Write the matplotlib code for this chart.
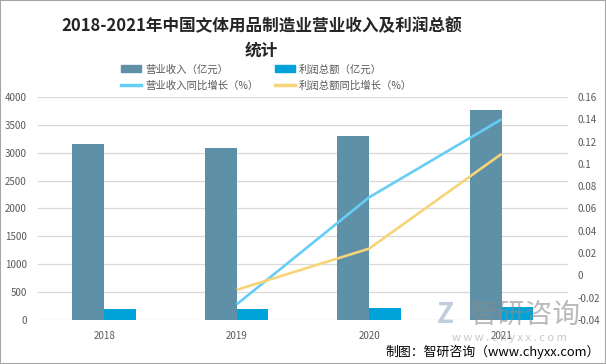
import matplotlib.pyplot as plt
from matplotlib.patches import Patch, Rectangle
from matplotlib.lines import Line2D
import numpy as np

plt.rcParams['font.family'] = ['Noto Sans CJK SC', 'DejaVu Sans']

years = ['2018', '2019', '2020', '2021']
revenue = [3160, 3088, 3303, 3770]          # 营业收入（亿元）
profit = [197, 197, 215, 239]               # 利润总额（亿元）
growth_years = ['2019', '2020', '2021']
revenue_growth = [-0.026, 0.070, 0.140]     # 营业收入同比增长
profit_growth = [-0.013, 0.024, 0.109]      # 利润总额同比增长

c_rev = '#5e90a8'
c_pro = '#00a3d9'
c_rev_line = '#66cdf5'
c_pro_line = '#f7d477'
grey = '#595959'

fig = plt.figure(figsize=(6.06, 3.64), dpi=100)
ax = fig.add_axes([0.0627, 0.121, 0.8743, 0.6125])
ax2 = ax.twinx()

x = np.arange(len(years))
w = 0.24
ax.bar(x - w / 2, revenue, w, color=c_rev, zorder=2)
ax.bar(x + w / 2, profit, w, color=c_pro, zorder=2)

gx = [years.index(y) for y in growth_years]
ax2.plot(gx, revenue_growth, color=c_rev_line, lw=1.9, solid_capstyle='butt')
ax2.plot(gx, profit_growth, color=c_pro_line, lw=1.9, solid_capstyle='butt')

ax.set_xlim(-0.5, 3.5)
ax.set_ylim(0, 4000)
ax.set_yticks(range(0, 4001, 500))
ax.set_xticks(x)
ax.set_xticklabels(years)
ax2.set_ylim(-0.04, 0.16)
ax2.set_yticks(np.arange(-0.04, 0.161, 0.02))
ax2.set_yticklabels(['-0.04', '-0.02', '0', '0.02', '0.04', '0.06', '0.08',
                     '0.1', '0.12', '0.14', '0.16'])

ax.grid(axis='y', color='#d9d9d9', lw=0.9, zorder=0)
ax.set_axisbelow(True)
for a in (ax, ax2):
    for s in a.spines.values():
        s.set_visible(False)
ax.tick_params(axis='y', length=0, pad=8, labelsize=7, labelcolor=grey)
ax.tick_params(axis='x', length=0, pad=8, labelsize=7, labelcolor=grey)
ax2.tick_params(axis='y', length=0, pad=7, labelsize=7, labelcolor=grey)

fig.text(0.432, 0.928, '2018-2021年中国文体用品制造业营业收入及利润总额',
         ha='center', va='center', fontsize=12, fontweight='bold', color='#262626')
fig.text(0.432, 0.86, '统计', ha='center', va='center', fontsize=12,
         fontweight='bold', color='#262626')

handles = [Patch(color=c_rev), Line2D([], [], color=c_rev_line, lw=2.5),
           Patch(color=c_pro), Line2D([], [], color=c_pro_line, lw=2.5)]
labels = ['营业收入（亿元）', '营业收入同比增长（%）', '利润总额（亿元）', '利润总额同比增长（%）']
fig.legend(handles, labels, ncol=2, loc='center', bbox_to_anchor=(0.44, 0.787),
           frameon=False, fontsize=7.5, labelcolor=grey, handlelength=1.9,
           handleheight=0.6, handletextpad=0.4, columnspacing=1.6, labelspacing=0.6)

# watermark
fig.text(0.775, 0.135, '智研咨询', ha='left', va='center', fontsize=20,
         color='#8c8c8c', alpha=0.6, zorder=10)
fig.text(0.72, 0.135, 'Z', ha='left', va='center', fontsize=20, fontweight='bold',
         color='#a8b8d0', alpha=0.7, zorder=10)
fig.text(0.84, 0.072, 'w w w . c h y x x . c o m', ha='center', va='center',
         fontsize=8, color='#b0b0b0', alpha=0.7, zorder=10)

fig.text(0.99, 0.033, '制图：智研咨询（www.chyxx.com）', ha='right', va='center',
         fontsize=9.3, color='black')

fig.patches.append(Rectangle((0, 0), 1, 1, transform=fig.transFigure, fill=False,
                             edgecolor='#a6a6a6', lw=1.5))

fig.savefig('out.png', dpi=100)
